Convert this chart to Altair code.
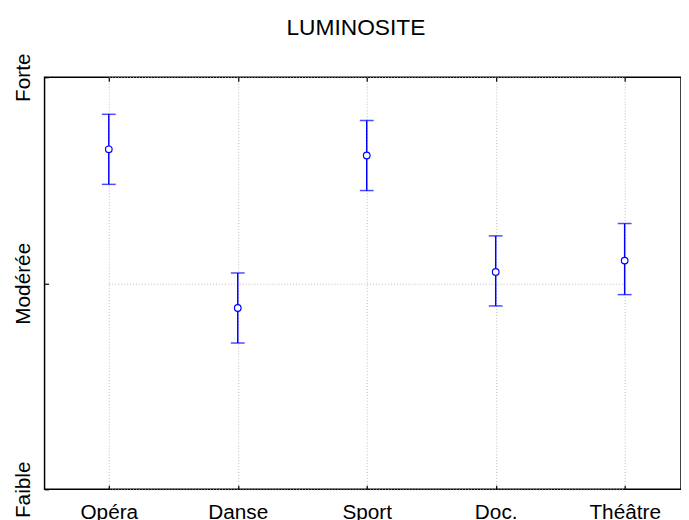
import altair as alt
import pandas as pd

categories = ["Opéra", "Danse", "Sport", "Doc.", "Théâtre"]
means = [2.65, 1.88, 2.62, 2.055, 2.11]
lowers = [2.48, 1.71, 2.45, 1.89, 1.945]
uppers = [2.82, 2.05, 2.79, 2.23, 2.29]
level_values = [1, 2, 3]
level_labels = ["Faible", "Modérée", "Forte"]
title_text = "LUMINOSITE"

df = pd.DataFrame({"cat": categories, "mean": means, "lo": lowers, "hi": uppers})

label_expr = " : ".join(
    f"datum.value == {v} ? '{l}'" for v, l in zip(level_values, level_labels)
) + " : ''"

FONT = "Liberation Sans"
BLUE = "#0000ff"
GRID = "#bdbdbd"

xscale = alt.Scale(type="point", range=[65, 587], padding=0)

x_bottom = alt.X(
    "cat:N", sort=categories, scale=xscale,
    axis=alt.Axis(title=None, labelAngle=0, grid=True, gridDash=[1, 2],
                  gridColor=GRID, gridWidth=1, domain=False, tickSize=4,
                  offset=-4, tickColor="black", tickWidth=1.2,
                  labelFontSize=21, labelFont=FONT, labelColor="black",
                  labelPadding=13),
)
x_top = alt.X(
    "cat:N", sort=categories, scale=xscale,
    axis=alt.Axis(title=None, orient="top", labels=False, grid=False,
                  domain=False, tickSize=4, offset=-4, tickColor="black",
                  tickWidth=1.2),
)
x_none = alt.X("cat:N", sort=categories, scale=xscale, axis=None)

yscale = alt.Scale(domain=[1, 3])
y_axis = alt.Axis(title=None, values=level_values, labelExpr=label_expr,
                  labelAngle=-90, labelAlign="center", labelBaseline="bottom",
                  grid=True, gridDash=[1, 2], gridColor=GRID, gridWidth=1,
                  domain=False, tickSize=4, offset=-4, tickColor="black",
                  tickWidth=1.2, labelFontSize=21, labelFont=FONT,
                  labelColor="black", labelPadding=11)

base = alt.Chart(df)

bars = base.mark_rule(color=BLUE, strokeWidth=1.5).encode(
    x=x_bottom,
    y=alt.Y("lo:Q", scale=yscale, axis=y_axis),
    y2="hi:Q",
)
top_axis = base.mark_point(opacity=0).encode(
    x=x_top,
    y=alt.Y("mean:Q", scale=yscale, axis=y_axis),
)
cap_hi = base.mark_tick(color=BLUE, thickness=1.5, size=14, orient="horizontal").encode(
    x=x_none, y=alt.Y("hi:Q", scale=yscale, axis=y_axis)
)
cap_lo = base.mark_tick(color=BLUE, thickness=1.5, size=14, orient="horizontal").encode(
    x=x_none, y=alt.Y("lo:Q", scale=yscale, axis=y_axis)
)
points = base.mark_point(shape="circle", fill="white", stroke=BLUE, strokeWidth=1.2,
                         size=45, opacity=1, fillOpacity=1).encode(
    x=x_none, y=alt.Y("mean:Q", scale=yscale, axis=y_axis)
)

chart = alt.layer(bars, top_axis, cap_hi, cap_lo, points).resolve_axis(
    x="independent", y="shared"
).properties(
    width=644,
    height=417,
    title=alt.Title(title_text, fontSize=23, font=FONT, fontWeight="normal",
                    color="black", anchor="middle", dx=-7, offset=0, dy=5,
                    baseline="alphabetic"),
    autosize=alt.AutoSizeParams(type="none"),
    padding={"left": 37, "top": 67, "right": 0, "bottom": 28},
    background="white",
).configure_view(stroke="black", strokeWidth=1.5)

chart.save("out.html", embed_options={"renderer": "svg", "actions": False})
